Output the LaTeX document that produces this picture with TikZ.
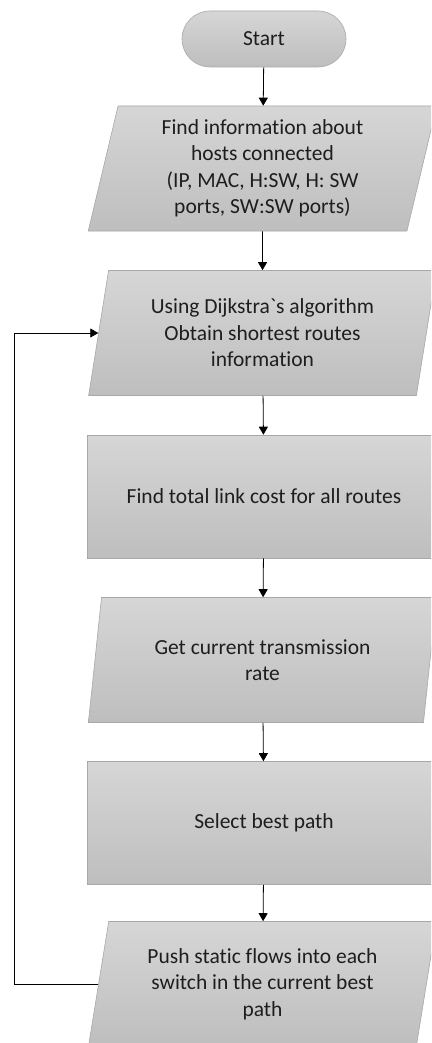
\documentclass[tikz,border=0pt]{standalone}
\usepackage{fontspec}
\setmainfont{Carlito}[Ligatures={NoCommon}]
\usetikzlibrary{shapes.geometric,shapes.misc,arrows.meta}
\definecolor{boxtop}{HTML}{D6D6D6}
\definecolor{boxbot}{HTML}{BEBEBE}
\definecolor{boxline}{HTML}{A8A8A8}
\definecolor{txt}{HTML}{1E1E1E}
\tikzset{
  base/.style={draw=boxline, line width=0.6pt, top color=boxtop, bottom color=boxbot,
    text=txt, font=\fontsize{21.5pt}{26.5pt}\selectfont, align=center, inner sep=0pt},
  term/.style={base, rounded rectangle, minimum width=164pt, minimum height=56pt},
  io/.style={base, trapezium, trapezium stretches=true, trapezium left angle=78,
    trapezium right angle=102, minimum width=349pt, minimum height=125pt},
  proc/.style={base, rectangle, minimum width=354pt, minimum height=123pt},
  arr/.style={draw=black, line width=0.8pt, -{Triangle[width=9pt,length=8pt]}}
}
\begin{document}
\begin{tikzpicture}[x=1pt,y=-1pt]
\useasboundingbox (0,0) rectangle (431,1043);
\clip (0,0) rectangle (431,1043);
\fill[white] (0,0) rectangle (431,1043);
\node[term] (start) at (264,39) {Start};
\node[io] (p1) at (262.5,168.5) {Find information about\\hosts connected\\(IP, MAC, H:SW, H: SW\\ports, SW:SW ports)};
\node[io] (p2) at (262.5,333) {Using Dijkstra\textasciigrave s algorithm\\Obtain shortest routes\\information};
\node[proc] (r1) at (264,496.5) {Find total link cost for all routes};
\node[io] (p3) at (262.5,660) {Get current transmission\\rate};
\node[proc] (r2) at (264,823) {Select best path};
\node[io] (p4) at (262.5,984) {Push static flows into each\\switch in the current best\\path};
\coordinate (lp) at (14,0);
\draw[arr] (start) -- (p1);
\draw[arr] (p1) -- (p2);
\draw[arr] (p2) -- (r1);
\draw[arr] (r1) -- (p3);
\draw[arr] (p3) -- (r2);
\draw[arr] (r2) -- (p4);
\draw[arr] (p4.west) -- (p4.west -| lp) -- (p2.west -| lp) -- (p2.west);
\end{tikzpicture}
\end{document}
